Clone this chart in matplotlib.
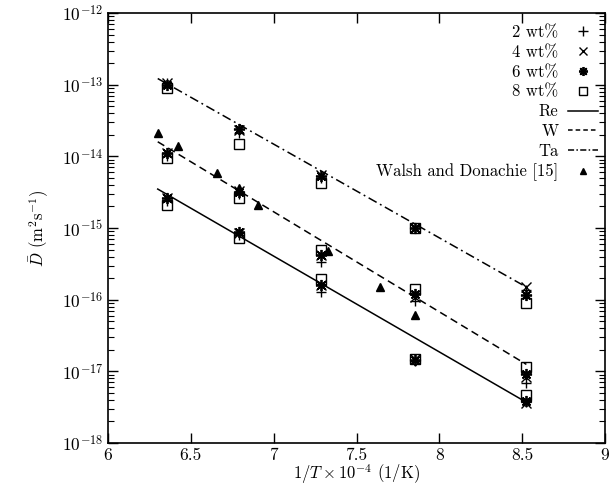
import numpy as np
import matplotlib
matplotlib.use("Agg")
import matplotlib.pyplot as plt

plt.rcParams['font.family'] = ['cmr10', 'DejaVu Serif']
plt.rcParams['mathtext.fontset'] = 'cm'
plt.rcParams['axes.formatter.use_mathtext'] = True

# inverse temperatures (1/T x 1e4, 1/K) for 1300,1200,1100,1000,900 C
x_pts = [6.357, 6.789, 7.283, 7.855, 8.525]

# Measured diffusivities (m^2/s): series per alloy content, three solutes (Ta, W, Re)
ta_2 = [1.05e-13, 2.1e-14, 5.0e-15, 1.0e-15, 1.35e-16]
ta_4 = [1.05e-13, 2.3e-14, 5.5e-15, 1.0e-15, 1.5e-16]
ta_6 = [1.0e-13, 2.4e-14, 5.3e-15, 1.0e-15, 1.15e-16]
ta_8 = [9.0e-14, 1.5e-14, 4.3e-15, 1.0e-15, 9.0e-17]

w_2 = [1.0e-14, 3.0e-15, 3.4e-16, 9.5e-17, 6.8e-18]
w_4 = [1.1e-14, 3.3e-15, 4.2e-16, 1.1e-16, 8.3e-18]
w_6 = [1.1e-14, 3.2e-15, 4.2e-16, 1.2e-16, 9.3e-18]
w_8 = [9.5e-15, 2.6e-15, 5.0e-16, 1.4e-16, 1.15e-17]

re_2 = [2.4e-15, 8.0e-16, 1.3e-16, 1.4e-17, 3.7e-18]
re_4 = [2.6e-15, 8.5e-16, 1.6e-16, 1.5e-17, 3.6e-18]
re_6 = [2.6e-15, 8.8e-16, 1.6e-16, 1.45e-17, 3.8e-18]
re_8 = [2.1e-15, 7.2e-16, 1.95e-16, 1.5e-17, 4.7e-18]

# Walsh and Donachie [15]
walsh_x = [6.30, 6.42, 6.657, 6.79, 6.906, 7.33, 7.64, 7.855]
walsh_y = [2.1e-14, 1.4e-14, 5.8e-15, 3.6e-15, 2.1e-15, 4.8e-16, 1.5e-16, 6.2e-17]

# Arrhenius fit lines (endpoints)
fit_x = [6.30, 8.525]
fit_re = [3.5e-15, 3.7e-18]
fit_w = [1.6e-14, 1.25e-17]
fit_ta = [1.22e-13, 1.5e-16]

x_ticks = [6, 6.5, 7, 7.5, 8, 8.5, 9]
x_tick_labels = ['6', '6.5', '7', '7.5', '8', '8.5', '9']

fig = plt.figure(figsize=(6.11, 4.88), dpi=100)
ax = fig.add_axes([0.1768, 0.0922, 0.8135, 0.881])

ast = (8, 2, 0)
mk = dict(color='black', linestyle='none', markersize=7)
for grp in [(ta_2, ta_4, ta_6, ta_8), (w_2, w_4, w_6, w_8), (re_2, re_4, re_6, re_8)]:
    s2, s4, s6, s8 = grp
    ax.plot(x_pts, s8, marker='s', markerfacecolor='none', markeredgewidth=1.0, **mk)
    ax.plot(x_pts, s2, marker='+', markeredgewidth=1.0, **mk)
    ax.plot(x_pts, s4, marker='x', markeredgewidth=1.0, **mk)
    ax.plot(x_pts, s6, marker=ast, markeredgewidth=1.3, color='black', linestyle='none', markersize=8)

ax.plot(fit_x, fit_re, color='black', lw=1.1, linestyle='-')
ax.plot(fit_x, fit_w, color='black', lw=1.1, linestyle=(0, (5, 3)))
ax.plot(fit_x, fit_ta, color='black', lw=1.1, linestyle=(0, (6, 2.5, 1.2, 2.5)))
ax.plot(walsh_x, walsh_y, marker='^', color='black', linestyle='none', markersize=5.5)

# legend proxies
h = []
h.append(ax.plot([], [], marker='+', markeredgewidth=1.0, **mk)[0])
h.append(ax.plot([], [], marker='x', markeredgewidth=1.0, markersize=5.5, color='black', linestyle='none')[0])
h.append(ax.plot([], [], marker=ast, markeredgewidth=1.3, markersize=6.5, color='black', linestyle='none')[0])
h.append(ax.plot([], [], marker='s', markerfacecolor='none', markersize=5.5, color='black', linestyle='none')[0])
h.append(ax.plot([], [], color='black', lw=1.1, linestyle='-')[0])
h.append(ax.plot([], [], color='black', lw=1.1, linestyle=(0, (3, 2)))[0])
h.append(ax.plot([], [], color='black', lw=1.1, linestyle=(0, (4, 1.5, 1, 1.5)))[0])
h.append(ax.plot([], [], marker='^', color='black', linestyle='none', markersize=5)[0])
labels = ['2 wt%', '4 wt%', '6 wt%', '8 wt%', 'Re', 'W', 'Ta', 'Walsh and Donachie [15]']
ax.legend(h, labels, loc='upper right', markerfirst=False, frameon=False,
          fontsize=12, handlelength=1.85, labelspacing=0.27, handletextpad=0.55,
          borderaxespad=0.0, bbox_to_anchor=(1.0, 0.988))

ax.set_yscale('log')
ax.set_xlim(6, 9)
ax.set_ylim(1e-18, 1e-12)
ax.set_xticks(x_ticks)
ax.set_xticklabels(x_tick_labels)
ax.set_yticks([1e-18, 1e-17, 1e-16, 1e-15, 1e-14, 1e-13, 1e-12])
ax.tick_params(which='both', direction='in', top=True, right=True, labelsize=12.5)
ax.tick_params(axis='x', pad=3)
ax.tick_params(which='major', length=7, width=1)
ax.tick_params(which='minor', length=4, width=0.8)
for s in ax.spines.values():
    s.set_linewidth(1.2)

ax.set_xlabel(r'$1/T \times 10^{-4}$ (1/K)', fontsize=12, labelpad=0)
ax.set_ylabel(r'$\bar{D}$ (m$^2$s$^{-1}$)', fontsize=12, labelpad=8)

fig.savefig('out.png', dpi=100)
